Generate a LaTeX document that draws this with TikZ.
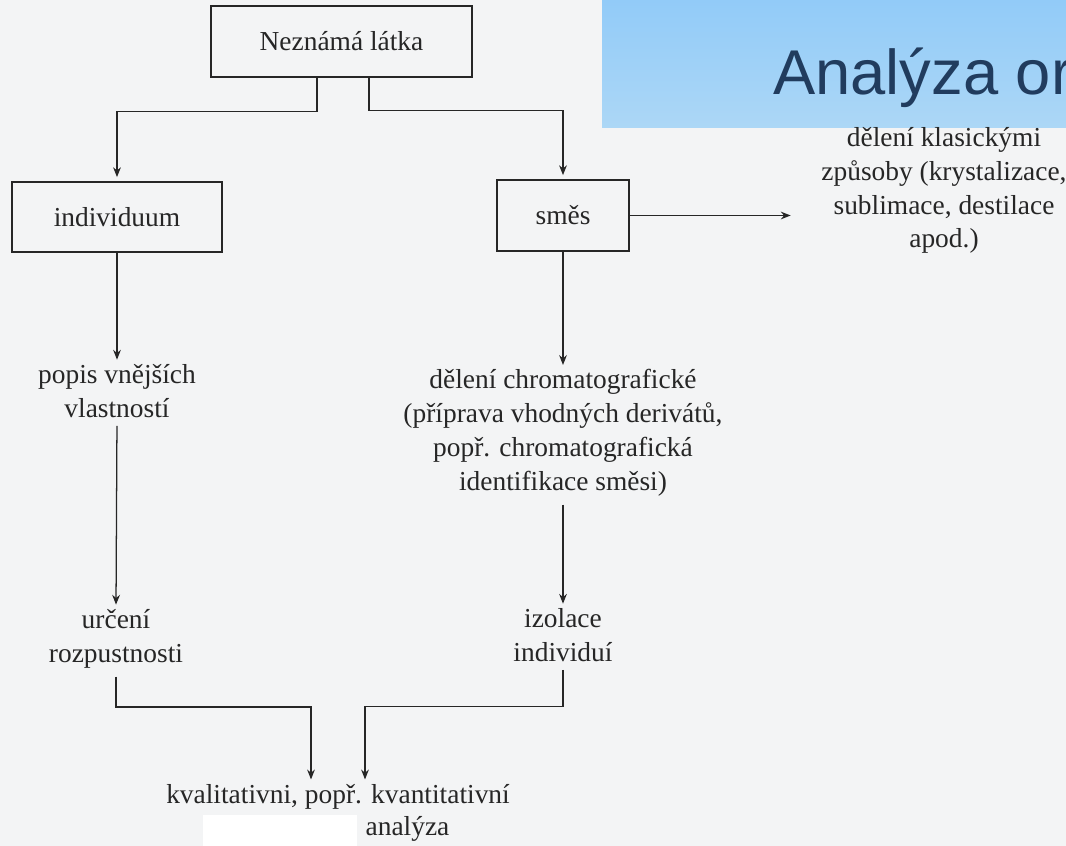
\documentclass[tikz,border=0pt]{standalone}
\usepackage{fontspec}
\setmainfont{Liberation Serif}
\newfontfamily\titlefont{Liberation Sans}
\usetikzlibrary{calc, arrows.meta}

\definecolor{paper}{RGB}{243,244,245}
\definecolor{ink}{RGB}{38,38,38}
\definecolor{skytop}{RGB}{146,203,248}
\definecolor{skybot}{RGB}{172,215,246}
\definecolor{titleblue}{RGB}{33,60,94}

\tikzset{
  box/.style={rectangle, draw=ink, line width=0.9pt, text=ink, inner sep=0pt},
  txt/.style={align=center, text=ink, inner sep=0pt, anchor=base},
  link/.style={draw=ink, line width=0.9pt},
  arr/.style={link, -{Stealth[length=7pt,width=5.5pt]}, shorten >=3pt},
  fromtxt/.style={shorten <=6pt},
}

\begin{document}
\begin{tikzpicture}[x=0.025cm, y=-0.025cm, font=\fontsize{19.5}{24}\selectfont]

        \useasboundingbox (0,0) rectangle (1066,846);
        \clip (0,0) rectangle (1066,846);
        \fill[paper] (0,0) rectangle (1066,846);
        \fill[white] (203,815) rectangle (357,846);

        %% Slide title
        \shade[top color=skytop, bottom color=skybot] (602,0) rectangle (1066,128);
        \node (title) [anchor=base west, inner sep=0pt, text=titleblue, font=\titlefont\fontsize{45}{54}\selectfont] at (773,95) {Analýza or};

        %% Boxes
        \node (latka) [box, minimum width=6.525cm, minimum height=1.775cm] at (341.5,41.5) {Neznámá látka};
        \node (indiv) [box, minimum width=5.25cm, minimum height=1.75cm] at (117,217) {individuum};
        \node (smes) [box, minimum width=3.3cm, minimum height=1.775cm] at (563,215.5) {směs};

        %% Texts (base = last line)
        \node (klas) [txt] at (944,248) {dělení klasickými\\způsoby (krystalizace,\\sublimace, destilace\\apod.)};
        \node (popis) [txt] at (117,417) {popis vnějších\\vlastností};
        \node (chrom) [txt] at (563,490) {dělení chromatografické\\(příprava vhodných derivátů,\\popř. chromatografická\\identifikace směsi)};
        \node (urceni) [txt] at (116,662) {určení\\rozpustnosti};
        \node (izol) [txt] at (563,661) {izolace\\individuí};
        \node (kval) [txt] at (338,803) {kvalitativni, popř. kvantitativní};
        \node (anal) [txt] at (407.5,835) {analýza};

        %% Arrows
        \coordinate (klasin) at ($(smes.east)+(161,0)$);
        \draw[arr] ($(latka.south)+(-24.5,0)$) -- ++(0,34) -| (indiv.north);
        \draw[arr] ($(latka.south)+(27.5,0)$) -- ++(0,33) -| (smes.north);
        \draw[arr, shorten >=0pt] (smes.east) -- (klasin);
        \draw[arr] (indiv.south) -- (popis.north);
        \draw[arr, fromtxt] (popis.south) -- (urceni.north);
        \draw[arr] (smes.south) -- (chrom.north);
        \draw[arr, fromtxt] (chrom.south) -- (izol.north);
        \draw[arr, fromtxt] (urceni.south) -- ++(0,39) -| ($(kval.north)+(-27,0)$);
        \draw[arr, fromtxt] (izol.south) -- ++(0,45) -| ($(kval.north)+(27,0)$);

\end{tikzpicture}
\end{document}
